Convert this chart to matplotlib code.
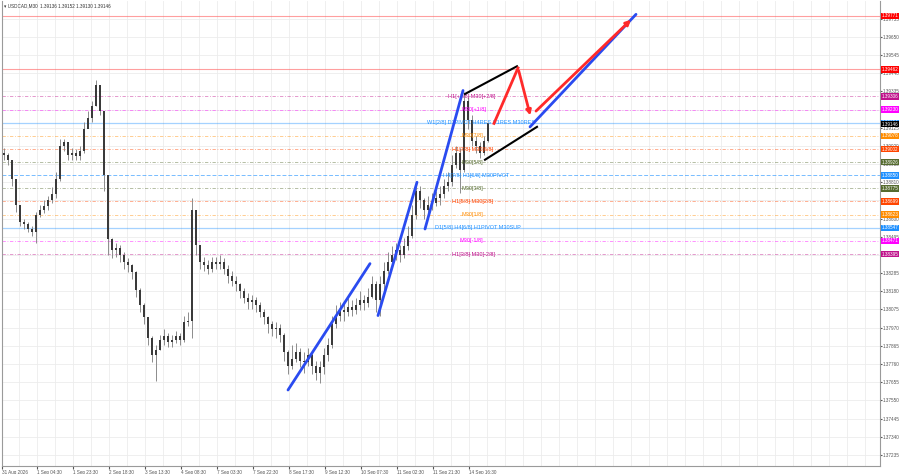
import matplotlib
matplotlib.use('Agg')
import matplotlib.pyplot as plt
import numpy as np

plt.rcParams['font.family'] = ['Liberation Sans', 'DejaVu Sans']

# candles (one candle here = ~4 M30 bars)
first_open = 1.3898
close = [1.3897, 1.3894, 1.3883, 1.3868, 1.3858, 1.3857, 1.3854, 1.3852, 1.3862, 1.3865,
         1.3867, 1.3871, 1.3874, 1.3883, 1.3902, 1.3904, 1.3897, 1.3898, 1.3896, 1.3899,
         1.3912, 1.3918, 1.3925, 1.3937, 1.3922, 1.3885, 1.3848, 1.3842, 1.3843, 1.3839,
         1.3835, 1.3833, 1.3829, 1.3819, 1.3810, 1.3803, 1.3791, 1.3781, 1.3784, 1.3790,
         1.3792, 1.3789, 1.3790, 1.3792, 1.3790, 1.3800, 1.3801, 1.3865, 1.3845, 1.3835,
         1.3833, 1.3831, 1.3835, 1.3834, 1.3835, 1.3831, 1.3827, 1.3824, 1.3822, 1.3818,
         1.3814, 1.3812, 1.3813, 1.3810, 1.3806, 1.3803, 1.3799, 1.3796, 1.3797, 1.3793,
         1.3783, 1.3775, 1.3779, 1.3783, 1.3778, 1.3777, 1.3781, 1.3775, 1.3771, 1.3774,
         1.3781, 1.3787, 1.3799, 1.3804, 1.3807, 1.3806, 1.3809, 1.3807, 1.3810, 1.3813,
         1.3811, 1.3815, 1.3822, 1.3813, 1.3822, 1.3830, 1.3835, 1.3839, 1.3842, 1.3839,
         1.3844, 1.3850, 1.3862, 1.3876, 1.3871, 1.3865, 1.3868, 1.3869, 1.3872, 1.3874,
         1.3879, 1.3881, 1.3891, 1.3898, 1.3888, 1.3928, 1.3917, 1.3905, 1.3902, 1.3898,
         1.3905, 1.3915]
high = [1.3901, 1.3898, 1.3894, 1.3883, 1.3868, 1.3860, 1.3858, 1.3856, 1.3864, 1.3868,
        1.3871, 1.3873, 1.3878, 1.3887, 1.3906, 1.3906, 1.3904, 1.3901, 1.3900, 1.3902,
        1.3916, 1.3922, 1.3928, 1.3940, 1.3937, 1.3921, 1.3885, 1.3849, 1.3846, 1.3845,
        1.3841, 1.3837, 1.3834, 1.3830, 1.3820, 1.3811, 1.3803, 1.3792, 1.3787, 1.3793,
        1.3796, 1.3794, 1.3793, 1.3795, 1.3794, 1.3804, 1.3806, 1.3872, 1.3864, 1.3842,
        1.3838, 1.3836, 1.3838, 1.3838, 1.3839, 1.3837, 1.3833, 1.3830, 1.3827, 1.3823,
        1.3820, 1.3817, 1.3816, 1.3815, 1.3812, 1.3808, 1.3804, 1.3801, 1.3800, 1.3799,
        1.3794, 1.3784, 1.3787, 1.3788, 1.3785, 1.3783, 1.3785, 1.3783, 1.3778, 1.3778,
        1.3785, 1.3791, 1.3804, 1.3810, 1.3812, 1.3811, 1.3814, 1.3813, 1.3814, 1.3818,
        1.3816, 1.3820, 1.3827, 1.3824, 1.3827, 1.3835, 1.3841, 1.3844, 1.3846, 1.3845,
        1.3849, 1.3856, 1.3868, 1.3881, 1.3879, 1.3872, 1.3873, 1.3875, 1.3876, 1.3879,
        1.3883, 1.3887, 1.3897, 1.3902, 1.3901, 1.3933, 1.3930, 1.3920, 1.3908, 1.3904,
        1.3908, 1.3916]
low = [1.3894, 1.3891, 1.3879, 1.3864, 1.3856, 1.3854, 1.3852, 1.3850, 1.3846, 1.3861,
       1.3863, 1.3865, 1.3869, 1.3872, 1.3882, 1.3899, 1.3894, 1.3894, 1.3894, 1.3894,
       1.3898, 1.3913, 1.3916, 1.3925, 1.3920, 1.3876, 1.3839, 1.3837, 1.3838, 1.3835,
       1.3831, 1.3829, 1.3825, 1.3815, 1.3806, 1.3799, 1.3787, 1.3777, 1.3766, 1.3784,
       1.3787, 1.3786, 1.3786, 1.3788, 1.3787, 1.3789, 1.3798, 1.3791, 1.3839, 1.3831,
       1.3830, 1.3828, 1.3829, 1.3831, 1.3831, 1.3828, 1.3823, 1.3821, 1.3818, 1.3814,
       1.3811, 1.3808, 1.3808, 1.3806, 1.3803, 1.3799, 1.3794, 1.3792, 1.3791, 1.3789,
       1.3778, 1.3770, 1.3773, 1.3777, 1.3774, 1.3771, 1.3775, 1.3770, 1.3767, 1.3765,
       1.3770, 1.3778, 1.3785, 1.3797, 1.3801, 1.3801, 1.3804, 1.3804, 1.3805, 1.3807,
       1.3807, 1.3809, 1.3814, 1.3806, 1.3804, 1.3819, 1.3828, 1.3833, 1.3836, 1.3835,
       1.3837, 1.3842, 1.3849, 1.3860, 1.3866, 1.3860, 1.3863, 1.3865, 1.3867, 1.3868,
       1.3872, 1.3876, 1.3879, 1.3889, 1.3875, 1.3887, 1.3912, 1.3902, 1.3898, 1.3895,
       1.3897, 1.3904]

time_labels = ["31 Aug 2026", "1 Sep 04:30", "1 Sep 23:30", "2 Sep 18:30", "3 Sep 13:30",
               "4 Sep 08:30", "7 Sep 03:30", "7 Sep 22:30", "8 Sep 17:30", "9 Sep 12:30",
               "10 Sep 07:30", "11 Sep 02:30", "11 Sep 21:30", "14 Sep 16:30"]
price_ticks = [1.37235, 1.37340, 1.37445, 1.37550, 1.37655, 1.37760, 1.37865, 1.37970,
               1.38075, 1.38180, 1.38285, 1.38390, 1.38495, 1.38600, 1.38705, 1.38810,
               1.38915, 1.39020, 1.39125, 1.39230, 1.39335, 1.39440, 1.39545, 1.39650,
               1.39755]

# murrey levels, top to bottom
murrey_levels = [1.39306, 1.39230, 1.39154, 1.39078, 1.39002, 1.38926, 1.38850,
                 1.38775, 1.38699, 1.38623, 1.38547, 1.38471, 1.38395]
murrey_text = ["H1[+1/8] M30[+2/8]", "M30[+1/8]", "W1[2/8] D1PIVOT H4RES H1RES M30RES",
               "M30[7/8]", "H1[7/8] M30[6/8]", "M30[5/8]", "H4[7/8] H1[6/8] M30PIVOT",
               "M30[3/8]", "H1[5/8] M30[2/8]", "M30[1/8]", "D1[5/8] H4[6/8] H1PIVOT M30SUP",
               "M30[-1/8]", "H1[3/8] M30[-2/8]"]
red_levels = [1.39771, 1.39462]
current_price = 1.39146

# hand drawn analysis lines: (x0, y0, x1, y1)
blue_lines = [(71, 1.3761, 91.5, 1.3834), (93.5, 1.3804, 103.25, 1.3881),
              (105.25, 1.3854, 114.75, 1.3934), (131.5, 1.3913, 158, 1.3978)]
black_lines = [(115.25, 1.3932, 128.25, 1.3948), (120.25, 1.3894, 133.25, 1.3913)]
red_path = [(122.5, 1.3915), (128.5, 1.3947), (131.75, 1.3918)]
red_arrow = (132.5, 1.3921, 157.25, 1.3976)

MVR, MAG, BLU, ORA, ORR, OLV = '#c0148c', '#ff00ff', '#1e90ff', '#ff8c00', '#ff4500', '#556b2f'
m_colors = [MVR, MAG, BLU, ORA, ORR, OLV, BLU, OLV, ORR, ORA, BLU, MAG, MVR]
m_styles = ['dd', 'dd', 'solid', 'dd', 'dd', 'dd', 'dash', 'dd', 'dd', 'dd', 'solid', 'dd', 'dd']
text_x = [111, 114.25, 105.75, 114.25, 112, 114.25, 109.75, 114.25, 112, 114.25, 107.75, 113.75, 112]

FS = 3.3

fig = plt.figure(figsize=(9, 4.74), dpi=100)
ax = fig.add_axes([2 / 900, 8 / 474, 878 / 900, 465 / 474])
ax.set_xlim(-0.5, 219)
ax.set_ylim(1.37171, 1.39857)

# grid
for n in range(50):
    ax.axvline(-0.75 + 4.5 * n, color='#ececec', lw=0.6, zorder=0)
for p in price_ticks:
    ax.axhline(p, color='#ececec', lw=0.6, zorder=0)

# levels
for p in red_levels:
    ax.axhline(p, color='#ff6060', lw=0.8, alpha=0.6, zorder=1)
for p, c, s in zip(murrey_levels, m_colors, m_styles):
    if s == 'solid':
        ax.axhline(p, color=c, lw=0.9, alpha=0.4, zorder=1)
    elif s == 'dash':
        ax.axhline(p, color=c, lw=0.7, alpha=0.6, ls=(0, (4, 2)), zorder=1)
    else:
        ax.axhline(p, color=c, lw=0.6, alpha=0.5, ls=(0, (4, 2, 1, 2)), zorder=1)

# candles
x = np.arange(len(close))
opens = np.array([first_open] + close[:-1])
closes = np.array(close)
ax.vlines(x, low, high, color='#8c8c8c', lw=0.7, zorder=2)
ax.bar(x, closes - opens, bottom=opens, width=0.7, color='#3a3a3a', zorder=3)

# level captions
for tx, p, t, c in zip(text_x, murrey_levels, murrey_text, m_colors):
    ax.text(tx, p, t, color=c, fontsize=4, va='center', ha='left', zorder=4)

# analysis drawings
for x0, y0, x1, y1 in blue_lines:
    ax.plot([x0, x1], [y0, y1], color='#2a4bf0', lw=2, solid_capstyle='round', zorder=5)
for x0, y0, x1, y1 in black_lines:
    ax.plot([x0, x1], [y0, y1], color='black', lw=1.5, zorder=5)
ax.plot([p[0] for p in red_path[:2]], [p[1] for p in red_path[:2]], color='#ff2a2a', lw=2, zorder=5)
ax.annotate('', xy=red_path[2], xytext=red_path[1],
            arrowprops=dict(arrowstyle='-|>', color='#ff2a2a', lw=2, mutation_scale=7), zorder=5)
ax.annotate('', xy=red_arrow[2:], xytext=red_arrow[:2],
            arrowprops=dict(arrowstyle='-|>', color='#ff2a2a', lw=2, mutation_scale=7), zorder=5)

# axes look
ax.spines['top'].set_visible(False)
for side in ['left', 'right', 'bottom']:
    ax.spines[side].set_color('#9a9a9a')
    ax.spines[side].set_linewidth(0.8)
ax.yaxis.tick_right()
ax.set_yticks(price_ticks)
ax.set_yticklabels(['%.5f' % p for p in price_ticks])
ax.tick_params(axis='y', labelsize=FS, colors='#555555', length=1.2, pad=0.6)
tick_pos = [-0.5, 8.25, 17.25, 26.25, 35.25, 44.25, 53.25, 62.25, 71.25, 80.25, 89.25,
            98.25, 107.25, 116.25]
ax.set_xticks(tick_pos)
ax.set_xticklabels(time_labels, ha='left')
ax.tick_params(axis='x', labelsize=FS, colors='#555555', length=2, pad=1)

# price tags on the right
tags = [(p, '#ff0000') for p in red_levels] + list(zip(murrey_levels, m_colors)) + [(current_price, 'black')]
for p, c in tags:
    ax.annotate('%.5f' % p, xy=(1.0, p), xycoords=('axes fraction', 'data'),
                xytext=(1.0, 0), textcoords='offset points', fontsize=FS, color='white',
                va='center', ha='left', annotation_clip=False, zorder=6,
                bbox=dict(boxstyle='square,pad=0.15', fc=c, ec='none'))

fig.text(4 / 900, 1 - 6 / 474, '\u25be USDCAD,M30  1.39136 1.39152 1.39130 1.39146',
         fontsize=FS, color='#333333', va='center')

fig.savefig('out.png', dpi=100)
